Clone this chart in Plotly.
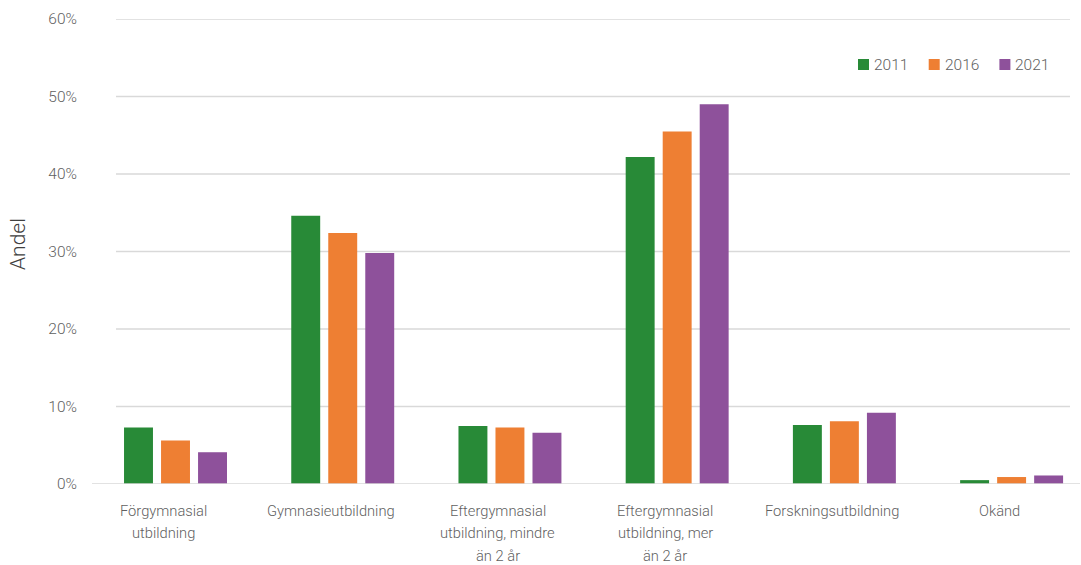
import plotly.graph_objects as go

# Utbildningsnivå, andel per år
categories = [
    "Förgymnasial<br>utbildning",
    "Gymnasieutbildning",
    "Eftergymnasial<br>utbildning, mindre<br>än 2 år",
    "Eftergymnasial<br>utbildning, mer<br>än 2 år",
    "Forskningsutbildning",
    "Okänd",
]
years = ["2011", "2016", "2021"]
v2011 = [7.3, 34.6, 7.5, 42.2, 7.6, 0.5]
v2016 = [5.6, 32.4, 7.3, 45.5, 8.1, 0.9]
v2021 = [4.1, 29.8, 6.6, 49.0, 9.2, 1.1]
yticks = [0, 10, 20, 30, 40, 50, 60]

colors = ["#288a37", "#ee7f33", "#8e519b"]
FONT = "Roboto"
GREY = "#5f5f5f"

# plot area in pixels
W, H = 1081, 565
ML, MR, MT, MB = 92, 1, 19, 81
PW, PH = W - ML - MR, H - MT - MB


def px_x(px):
    return (px - ML) / PW


def px_y(py):
    return (H - MB - py) / PH


x_idx = list(range(len(categories)))

fig = go.Figure()
for name, vals, col in zip(years, [v2011, v2016, v2021], colors):
    fig.add_trace(go.Bar(x=x_idx, y=vals, name=name, marker_color=col,
                         marker_line_width=0, showlegend=False))

annotations = []
# Category labels, one line per annotation for tighter line spacing
for i, cat in enumerate(categories):
    for k, line in enumerate(cat.split("<br>")):
        annotations.append(dict(
            x=i, y=0, xref="x", yref="y", text=line, showarrow=False,
            xanchor="center", yanchor="middle", xshift=-12,
            yshift=-(26.5 + 22.5 * k),
            font=dict(family=FONT, size=14.7, color=GREY, weight=300)))

# Axis title
annotations.append(dict(
    x=px_x(18), y=px_y(244), xref="paper", yref="paper", text="Andel",
    showarrow=False, textangle=-90, xanchor="center", yanchor="middle",
    font=dict(family=FONT, size=21, color="#404040", weight=300)))

# Legend: coloured squares with the year beside each
shapes = []
leg_x0, leg_step, leg_y, sq = 858, 70.7, 64.5, 11
for j, (name, col) in enumerate(zip(years, colors)):
    x0 = leg_x0 + leg_step * j
    shapes.append(dict(type="rect", xref="paper", yref="paper",
                       x0=px_x(x0), x1=px_x(x0 + sq),
                       y0=px_y(leg_y + sq / 2), y1=px_y(leg_y - sq / 2),
                       fillcolor=col, line=dict(width=0)))
    annotations.append(dict(
        x=px_x(x0 + sq + 3), y=px_y(leg_y), xref="paper", yref="paper",
        text=name, showarrow=False, xanchor="left", yanchor="middle",
        font=dict(family=FONT, size=15.5, color=GREY, weight=300)))

# Horizontal gridlines (shorter than the baseline)
for t in yticks[1:]:
    shapes.append(dict(type="line", xref="paper", yref="y",
                       x0=px_x(116), x1=px_x(1070), y0=t, y1=t,
                       line=dict(color="#d9d9d9", width=1.5), layer="below"))
# Baseline
shapes.append(dict(type="line", xref="paper", yref="y", x0=0, x1=1,
                   y0=0, y1=0, line=dict(color="#d9d9d9", width=1.5),
                   layer="above"))

fig.update_layout(
    width=W, height=H,
    margin=dict(l=ML, r=MR, t=MT, b=MB),
    plot_bgcolor="white", paper_bgcolor="white",
    barmode="group", bargap=0.336, bargroupgap=0.218,
    showlegend=False,
    xaxis=dict(range=[-0.4994, 5.409], showticklabels=False, showgrid=False,
               zeroline=False, showline=False, fixedrange=True),
    yaxis=dict(range=[0, 60], tickvals=yticks,
               ticktext=[f"{t}%" for t in yticks],
               showgrid=False, zeroline=False, showline=False,
               ticklabelstandoff=14,
               tickfont=dict(family=FONT, size=15.5, color=GREY, weight=300)),
    annotations=annotations,
    shapes=shapes,
)

fig.write_html("out.html")
